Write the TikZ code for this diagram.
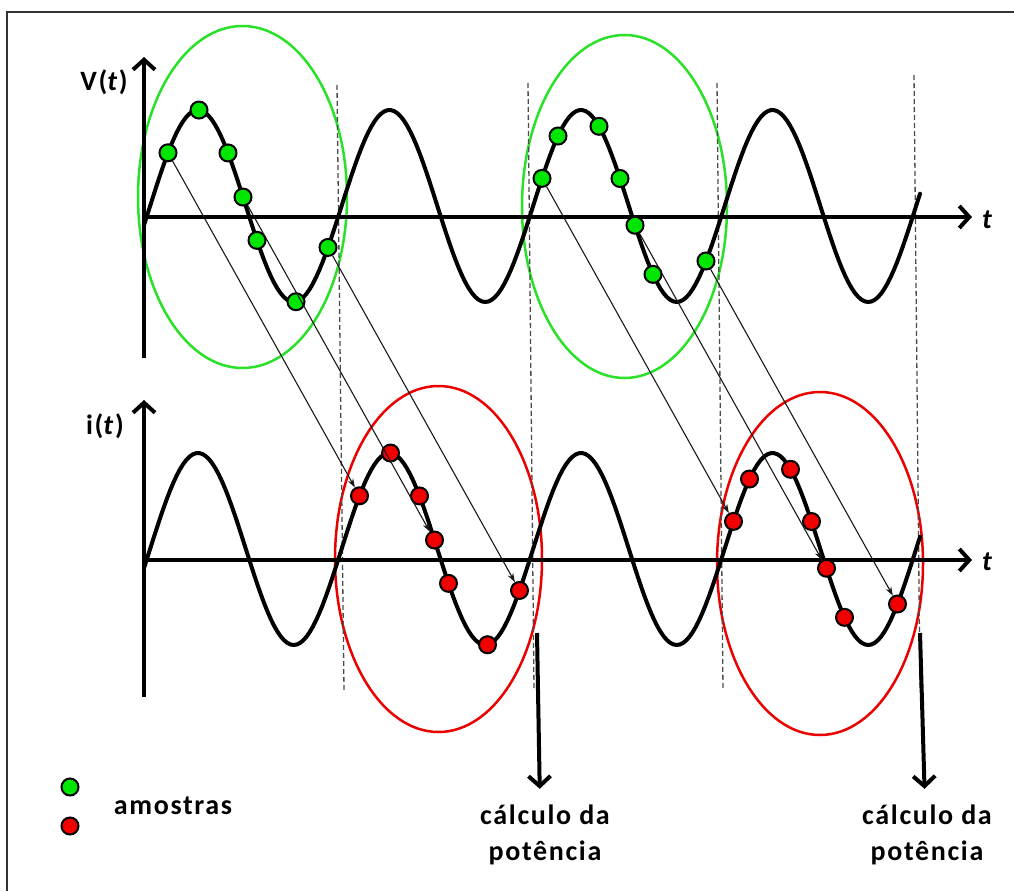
\documentclass[tikz,border=0pt]{standalone}
\usepackage{fontspec}
\setmainfont{Carlito}
\usetikzlibrary{arrows.meta}

\definecolor{ringgreen}{RGB}{40,225,40}
\definecolor{dotgreen}{RGB}{0,230,0}
\definecolor{ringred}{RGB}{235,0,0}
\definecolor{dotred}{RGB}{240,0,0}

\tikzset{
	axis/.style={line width=4pt, -{Straight Barb[length=10pt,width=22pt]}},
	signal/.style={line width=4pt, line join=round, line cap=round},
	guide/.style={line width=1.3pt, gray!60!black, dash pattern=on 5pt off 3pt},
	greenring/.style={line width=2.5pt, ringgreen},
	redring/.style={line width=2.5pt, ringred},
	sample/.style={circle, draw=black, line width=2pt, minimum size=17pt, inner sep=0pt},
	sampling/.style={line width=1.1pt, black!90, -{Stealth[length=9pt,width=6pt]}},
	power/.style={line width=4pt, -{Straight Barb[length=10pt,width=22pt]}},
	lbl/.style={font=\fontsize{28}{36}\selectfont\bfseries\addfontfeature{LetterSpace=6}}
}

\begin{document}
\begin{tikzpicture}[x=1pt, y=-1pt,
	declare function={vwave(\t)=206-96*sin((\t-150.1)/191.5*360);}]
	\useasboundingbox (0,0) rectangle (1014,891);
	
	% Frame
	\draw[line width=1.5pt, black!80] (1014,12) -- (7,12) -- (7,891);
	
	% Windows
	\draw[greenring] (242.5,197) ellipse [x radius=104.5, y radius=171];
	\draw[greenring] (624.5,206.5) ellipse [x radius=102.5, y radius=171.5];
	\draw[redring] (438.5,559) ellipse [x radius=103.5, y radius=173];
	\draw[redring] (820,563.5) ellipse [x radius=103, y radius=171.5];
	
	% Period marks
	\foreach \xa/\xb/\ya in {337/344/85, 528/534/83, 717/723/83, 914/920/75} {
		\draw[guide] (\xa,\ya) -- (\xb,690);
	}
	
	% Axes
	\draw[axis] (144,358) -- (144,57);
	\draw[axis] (144,217) -- (972,217);
	\draw[axis] (144,697) -- (144,400);
	\draw[axis] (144,560) -- (972,560);
	\node[lbl, anchor=base] (vlabel) at (104,90) {V(\textit{t})};
	\node[lbl, anchor=base] (ilabel) at (105,434) {i(\textit{t})};
	\node[lbl, anchor=base] (vtime) at (988,228) {\textit{t}};
	\node[lbl, anchor=base] (itime) at (988,570) {\textit{t}};
	
	% Voltage and current
	\draw[signal] plot[domain=144:920, samples=240] (\x, {vwave(\x)});
	\draw[signal] plot[domain=144:920, samples=240] (\x, {vwave(\x)+343});
	
	% Samples
	\foreach \xs [count=\k] in {168,199,228,243,257,296,328} {
		\node[sample, fill=dotgreen] (va\k) at ({\xs}, {vwave(\xs)}) {};
		\node[sample, fill=dotred] (ia\k) at ({\xs+191.5}, {vwave(\xs)+343}) {};
	}
	\foreach \xs [count=\k] in {542,558,599,620,635,653,706} {
		\node[sample, fill=dotgreen] (vb\k) at ({\xs}, {vwave(\xs)}) {};
		\node[sample, fill=dotred] (ib\k) at ({\xs+191.5}, {vwave(\xs)+343}) {};
	}
	\foreach \k in {1,4,7} {
		\draw[sampling] (va\k) -- (ia\k);
	}
	\foreach \k in {1,5,7} {
		\draw[sampling] (vb\k) -- (ib\k);
	}
	
	% Power
	\node[lbl, align=center, inner sep=0pt] (calca) at (545,835) {cálculo da\\potência};
	\node[lbl, align=center, inner sep=0pt] (calcb) at (927,835) {cálculo da\\potência};
	\coordinate (outa) at (537,633);
	\coordinate (outb) at (920,633);
	\draw[power, shorten >=16pt] (outa) -- ([xshift=-5pt]calca.north);
	\draw[power, shorten >=16pt] (outb) -- ([xshift=-2pt]calcb.north);
	
	% Legend
	\node[sample, fill=dotgreen] (leggreen) at (70,787) {};
	\node[sample, fill=dotred] (legred) at (70,826) {};
	\node[lbl, anchor=base] (legtext) at (173,814) {amostras};
\end{tikzpicture}
\end{document}
